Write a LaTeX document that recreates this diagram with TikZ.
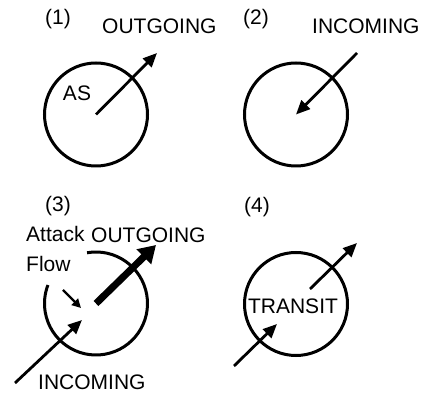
\documentclass[tikz,border=0pt]{standalone}
\usepackage{fontspec}
\setmainfont{Liberation Sans}
\usetikzlibrary{arrows.meta}
\tikzset{
	as/.style={circle, draw, line width=3pt, minimum size=103pt, inner sep=0pt},
	ring/.style={line width=3pt},
	lbl/.style={anchor=base west, inner sep=0pt},
	flow/.style={line width=2.8pt, -{Triangle[length=14pt,width=12pt]}},
	big/.style={line width=7pt, -{Triangle[length=17pt,width=20pt]}},
	hint/.style={line width=2.2pt, -{Triangle[length=9pt,width=9pt]}},
}

\begin{document}
\begin{tikzpicture}[x=1pt, y=1pt, font=\fontsize{21}{30}\selectfont]
	\useasboundingbox (0,0) rectangle (421,-398);

	% (1) outgoing
	\node[lbl] (n1) at (45,-25) {(1)};
	\node[lbl] (out1) at (102,-34) {OUTGOING};
	\node[as] (c1) at (96,-114.5) {};
	\node (as1) at (77,-93.5) {AS};
	\coordinate (t1) at (157,-53);
	\draw[flow] (c1.center) -- (t1);

	% (2) incoming
	\node[lbl] (n2) at (243,-25) {(2)};
	\node[lbl] (in2) at (312,-34) {INCOMING};
	\node[as] (c2) at (296,-114.5) {};
	\coordinate (s2) at (357,-53);
	\draw[flow] (s2) -- (c2.center);

	% (3) attack flow
	\node[lbl] (n3) at (45,-212) {(3)};
	\node[lbl] (out3) at (91,-243) {OUTGOING};
	\node[lbl] (at3) at (26,-242) {Attack};
	\node[lbl] (fl3) at (26,-272) {Flow};
	\node[lbl] (in3) at (38,-390) {INCOMING};
	\coordinate (c3) at (96,-303.5);
	\draw[ring] (c3) ++(100:51.5pt) arc[start angle=100, end angle=-201, radius=51.5pt];
	\coordinate (t3) at (156,-245);
	\coordinate (h3) at (63,-290);
	\coordinate (hx) at (81,-308);
	\coordinate (s3) at (15,-383);
	\coordinate (e3) at (82,-320);
	\draw[big] (c3) -- (t3);
	\draw[hint] (h3) -- (hx);
	\draw[flow] (s3) -- (e3);

	% (4) transit
	\node[lbl] (n4) at (244,-213) {(4)};
	\node[as] (c4) at (296,-304) {};
	\node (tr) at (293,-306) {TRANSIT};
	\coordinate (s4) at (310,-289);
	\coordinate (t4) at (357,-243);
	\coordinate (u4) at (234,-366);
	\coordinate (e4) at (277,-324);
	\draw[flow] (s4) -- (t4);
	\draw[flow] (u4) -- (e4);
\end{tikzpicture}
\end{document}
